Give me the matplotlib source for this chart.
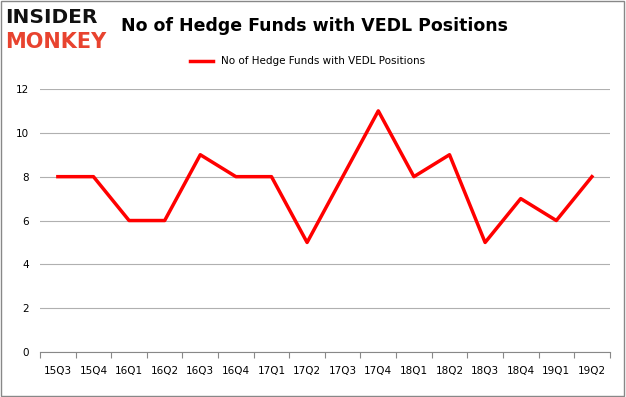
import numpy as np
import matplotlib
matplotlib.use("Agg")
import matplotlib.pyplot as plt
from matplotlib.patches import Rectangle

# Data
quarters = ["15Q3", "15Q4", "16Q1", "16Q2", "16Q3", "16Q4", "17Q1", "17Q2",
            "17Q3", "17Q4", "18Q1", "18Q2", "18Q3", "18Q4", "19Q1", "19Q2"]
funds = [8, 8, 6, 6, 9, 8, 8, 5, 8, 11, 8, 9, 5, 7, 6, 8]
series_name = "No of Hedge Funds with VEDL Positions"

fig = plt.figure(figsize=(6.26, 3.97), dpi=100)
ax = fig.add_axes([0.064, 0.113, 0.91, 0.663])

x = np.arange(len(quarters))
ax.plot(x, funds, color="#ff0000", linewidth=2.5, label=series_name)

ax.set_xlim(-0.5, len(quarters) - 0.5)
ax.set_ylim(0, 12)
ax.set_yticks(range(0, 13, 2))
ax.yaxis.grid(True, color="#b0b0b0", linewidth=0.8)
ax.set_axisbelow(True)

# ticks between categories, labels at centres
ax.set_xticks(np.arange(-0.5, len(quarters), 1.0))
ax.set_xticklabels([])
ax.set_xticks(x, minor=True)
ax.set_xticklabels(quarters, minor=True)
ax.tick_params(axis="x", which="major", length=4, color="#888888")
ax.tick_params(axis="x", which="minor", length=0, pad=10, labelsize=7.5)
ax.tick_params(axis="y", length=0, labelsize=7.5, pad=8)

for s in ["top", "right", "left"]:
    ax.spines[s].set_visible(False)
ax.spines["bottom"].set_color("#888888")

ax.legend(loc="lower center", bbox_to_anchor=(0.47, 1.05), frameon=False,
          fontsize=7.5, handlelength=2.2)

fig.text(0.502, 0.935, "No of Hedge Funds with VEDL Positions", ha="center",
         va="center", fontsize=12.5, fontweight="bold")

# logo
fig.text(0.008, 0.955, "INSIDER", fontsize=14.5, fontweight="bold", color="#111111",
         va="center", ha="left")
fig.text(0.008, 0.895, "MONKEY", fontsize=15, fontweight="bold", color="#e8432f",
         va="center", ha="left")

# figure border
fig.patches.append(Rectangle((0.002, 0.003), 0.995, 0.994, transform=fig.transFigure,
                             fill=False, edgecolor="#888888", linewidth=1))

fig.savefig("out.png", dpi=100)
